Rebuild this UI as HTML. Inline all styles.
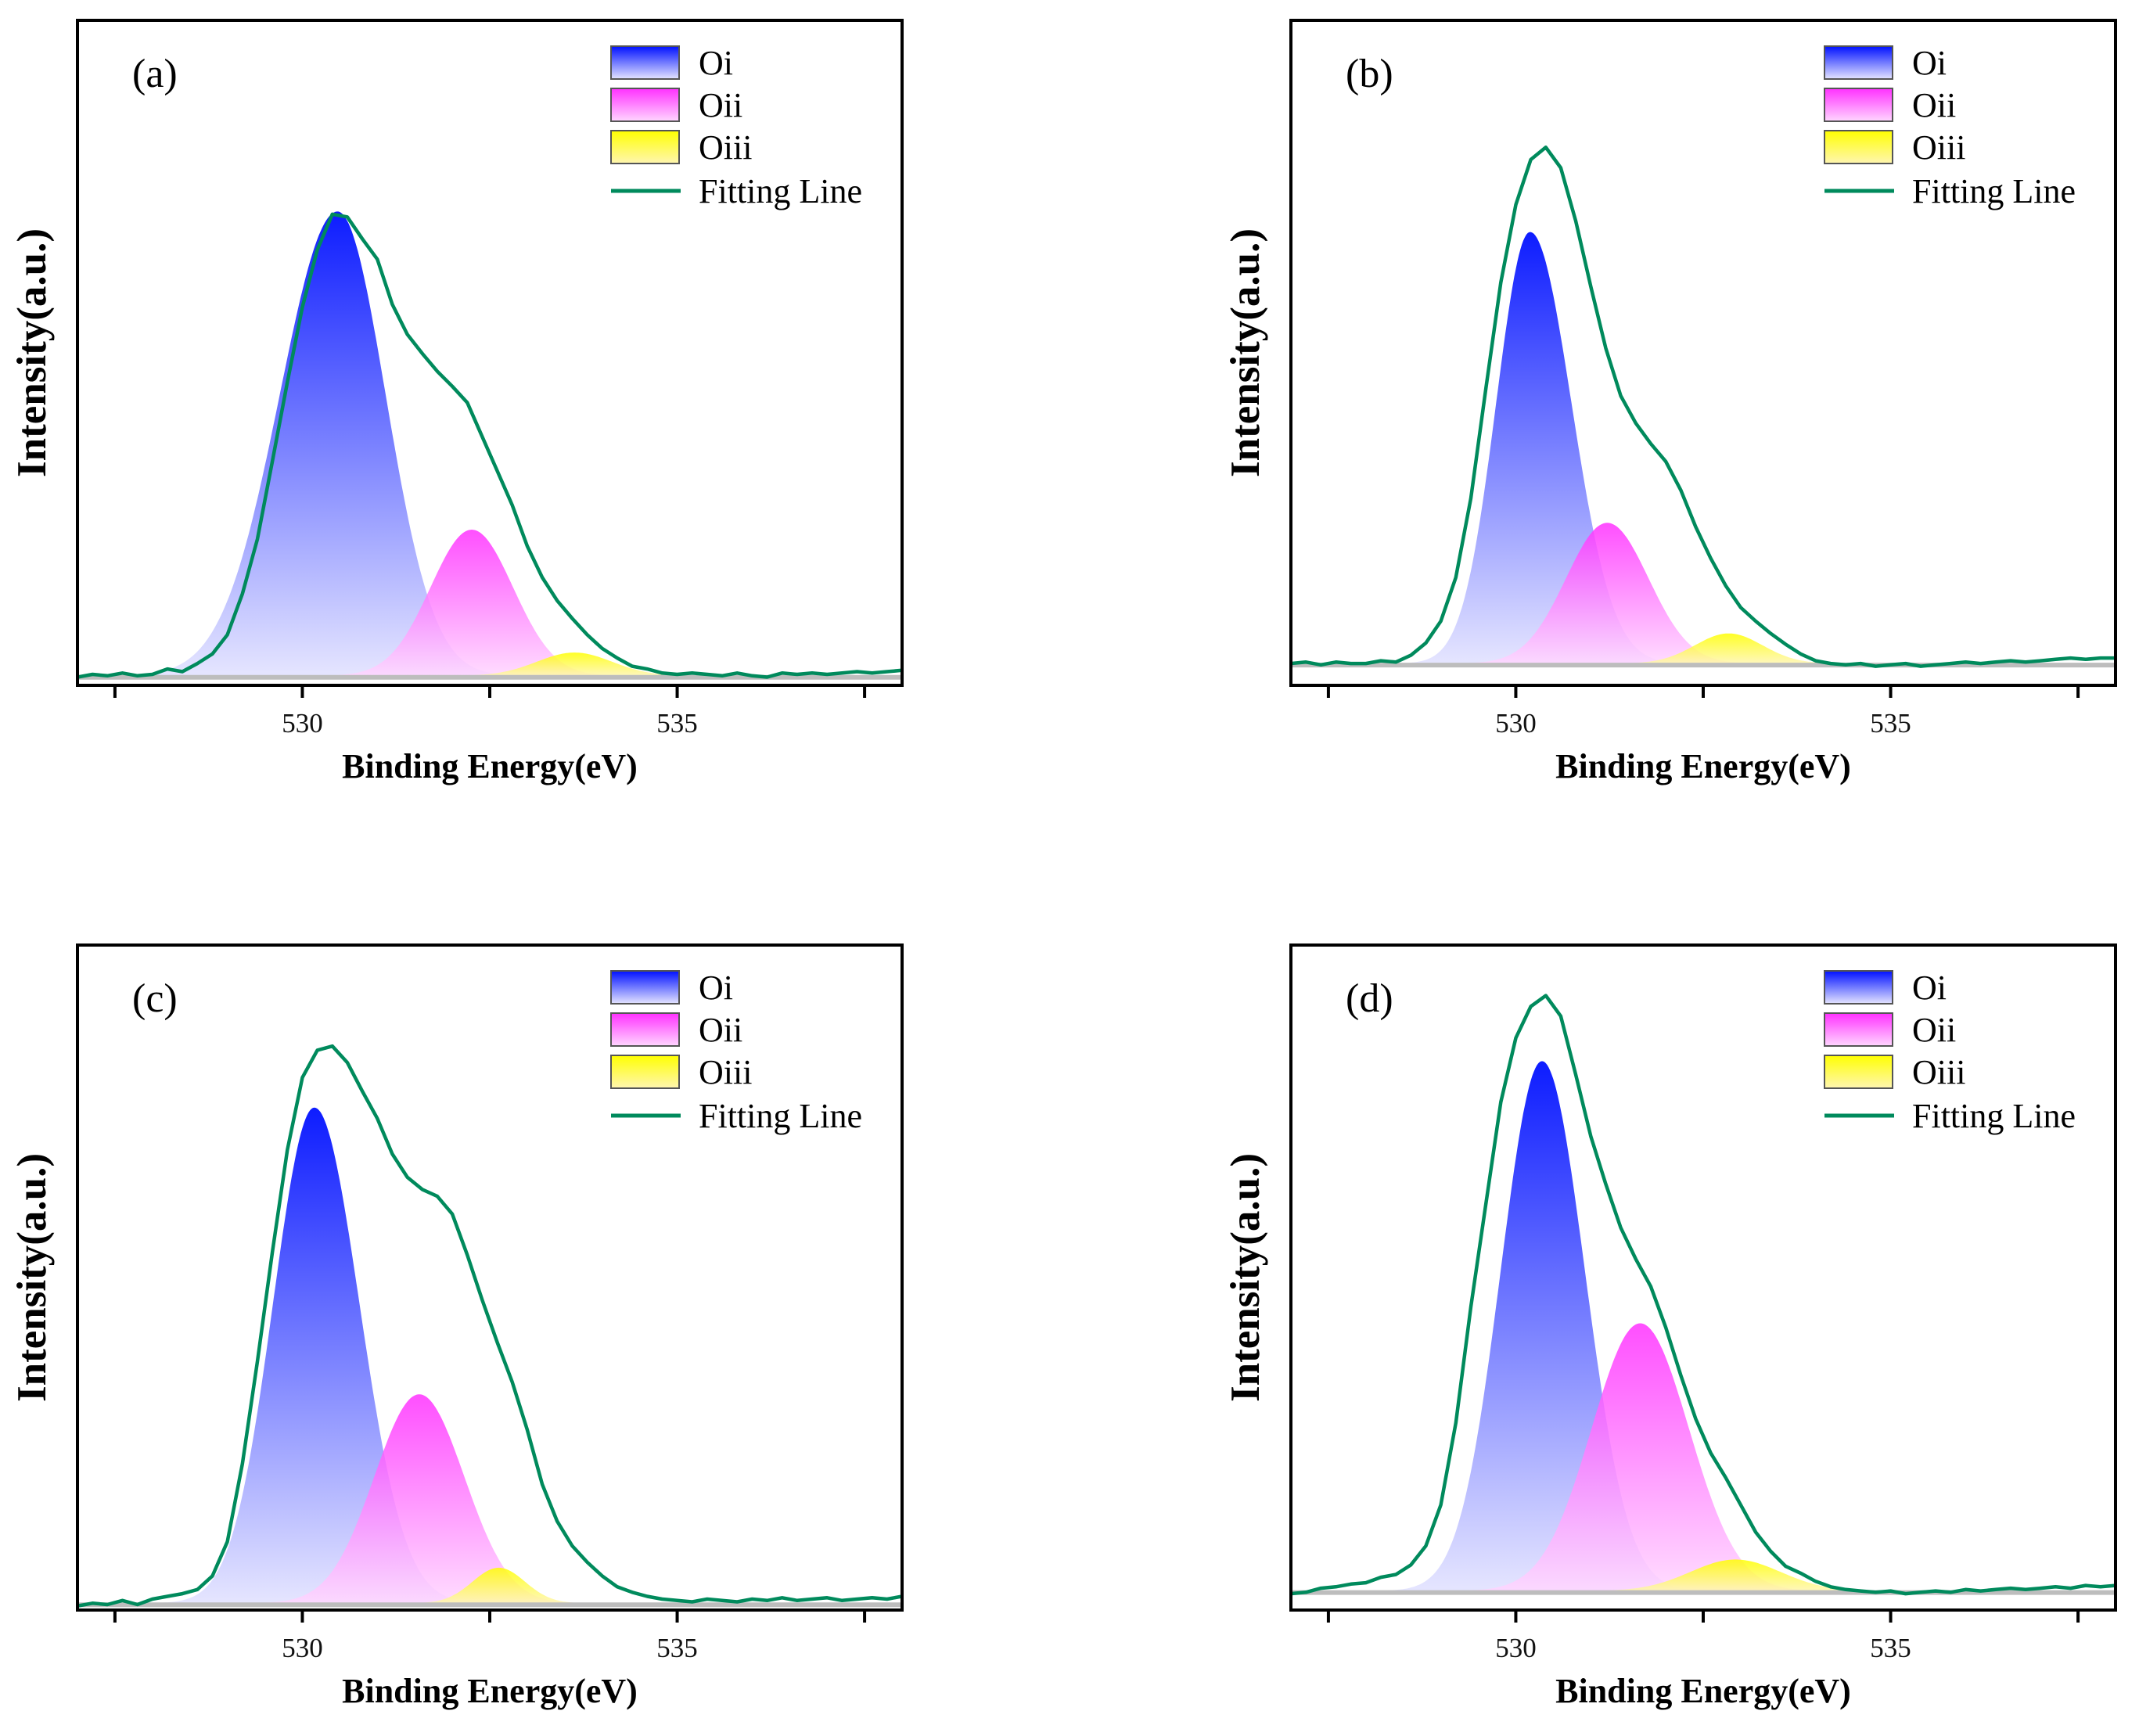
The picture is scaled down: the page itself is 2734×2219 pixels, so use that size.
<!DOCTYPE html>
<html><head><meta charset="utf-8">
<style>
html,body{margin:0;padding:0;background:#fff;}
svg text{font-family:"Liberation Serif","DejaVu Serif",serif;}
</style></head>
<body>
<svg id="fig" xmlns="http://www.w3.org/2000/svg" width="2734" height="2214" viewBox="0 0 2734 2214">
<defs>
<linearGradient id="gOi" x1="0" y1="0" x2="0" y2="1"><stop offset="0" stop-color="#0010ff"/><stop offset="1" stop-color="#e4e4ff"/></linearGradient>
<linearGradient id="gOii" x1="0" y1="0" x2="0" y2="1"><stop offset="0" stop-color="#ff30ff"/><stop offset="1" stop-color="#ffd6ff"/></linearGradient>
<linearGradient id="gOiii" x1="0" y1="0" x2="0" y2="1"><stop offset="0" stop-color="#ffff00"/><stop offset="1" stop-color="#fff6b0"/></linearGradient>
</defs>
</svg>
<script>
// ---- data ----
const energies = [527.0,527.2,527.4,527.6,527.8,528.0,528.2,528.4,528.6,528.8,529.0,529.2,529.4,529.6,529.8,530.0,530.2,530.4,530.6,530.8,531.0,531.2,531.4,531.6,531.8,532.0,532.2,532.4,532.6,532.8,533.0,533.2,533.4,533.6,533.8,534.0,534.2,534.4,534.6,534.8,535.0,535.2,535.4,535.6,535.8,536.0,536.2,536.4,536.6,536.8,537.0,537.2,537.4,537.6,537.8,538.0];
const fitA = [-1,1,0,2,0,1,5,3,9,16,30,60,100,157,215,270,312,338,336,320,305,272,250,236,223,212,200,175,150,125,95,72,55,42,30,20,13,7,5,2,1,2,1,0,2,0,-1,2,1,2,1,2,3,2,3,4];
const fitB = [9,10,8,10,9,9,11,10,15,24,40,72,130,210,288,345,378,387,372,333,285,240,205,185,170,157,136,109,86,66,50,40,31,23,16,11,9,8,9,7,8,9,7,8,9,10,9,10,11,10,11,12,13,12,13,13];
const fitC = [-4,-2,-3,0,-3,1,3,5,8,18,43,100,175,255,330,383,403,406,394,373,353,327,310,301,296,283,253,220,189,160,125,85,58,40,28,18,10,6,3,1,0,-1,1,0,-1,1,0,2,0,1,2,0,1,2,1,3];
const fitD = [5,6,9,10,12,13,17,19,26,40,70,130,215,290,365,412,435,443,428,385,340,305,273,250,230,200,165,133,108,90,70,50,36,25,20,14,10,8,7,6,7,5,6,7,6,8,7,8,9,8,9,10,9,11,10,11];
// peak parameters: [center eV, height, sigmaLeft, sigmaRight]
const peaksA = [[530.47,340,0.77,0.64],[532.26,107,0.55,0.55],[533.63,17,0.5,0.5]];
const peaksB = [[530.19,316,0.45,0.55],[531.22,103,0.55,0.55],[532.84,22,0.45,0.45]];
const peaksC = [[530.16,363,0.55,0.6],[531.56,153,0.6,0.6],[532.62,26,0.35,0.35]];
const peaksD = [[530.35,388,0.55,0.57],[531.66,196,0.65,0.65],[532.93,23,0.6,0.6]];
const baselines = [0,9,-2,7];
const panelLabels = ["(a)","(b)","(c)","(d)"];
const xTicks = [527.5,530,532.5,535,537.5];
const xTickLabels = {530:"530",535:"535"};
const legendNames = ["Oi","Oii","Oiii"];

const NS="http://www.w3.org/2000/svg";
const svg=document.getElementById('fig');
function mk(tag,attrs,parent){const e=document.createElementNS(NS,tag);for(const k in attrs)e.setAttribute(k,attrs[k]);(parent||svg).appendChild(e);return e;}

const panels=[
 {l:99,r:1153,t:26,b:876,fit:fitA,peaks:peaksA},
 {l:1650,r:2704,t:26,b:876,fit:fitB,peaks:peaksB},
 {l:99,r:1153,t:1208,b:2058,fit:fitC,peaks:peaksC},
 {l:1650,r:2704,t:1208,b:2058,fit:fitD,peaks:peaksD}];
const fills=["url(#gOi)","url(#gOii)","url(#gOiii)"];
const names=["oi","oii","oiii"];

panels.forEach((p,i)=>{
 const g=mk('g',{});
 
 
 const xS=e=>p.l+(e-527)/(538-527)*(p.r-p.l);
 const yS=v=>p.b-(v+7)/(480+7)*(p.b-p.t);
 const base=baselines[i];
 const cp=mk('clipPath',{id:'clip'+i},g);
 mk('rect',{x:p.l,y:p.t,width:p.r-p.l,height:p.b-p.t},cp);
 const plot=mk('g',{'clip-path':'url(#clip'+i+')'},g);
 p.peaks.forEach((pk,j)=>{
  let d=`M${xS(527).toFixed(1)},${yS(base).toFixed(1)}`;
  for(let e=527;e<=538.001;e+=0.02){
   const s=e<pk[0]?pk[2]:pk[3];
   const v=base+pk[1]*Math.exp(-0.5*((e-pk[0])/s)**2);
   d+=`L${xS(e).toFixed(1)},${yS(v).toFixed(1)}`;
  }
  d+=`L${xS(538).toFixed(1)},${yS(base).toFixed(1)}Z`;
  const path=mk('path',{d:d,fill:fills[j],'fill-opacity':j==0?0.95:0.85},plot);
  
  
 });
 const bl=mk('line',{x1:p.l,x2:p.r,y1:yS(base)+2,y2:yS(base)+2,stroke:'#bdbdbd','stroke-width':6},plot);
 
 
 const pts=energies.map((e,k)=>`${xS(e).toFixed(1)},${yS(p.fit[k]).toFixed(1)}`).join(' ');
 const fl=mk('polyline',{points:pts,fill:'none',stroke:'#008a5c','stroke-width':4.5,'stroke-linejoin':'round'},plot);
 
 
 const fr=mk('rect',{x:p.l,y:p.t,width:p.r-p.l,height:p.b-p.t,fill:'none',stroke:'#000','stroke-width':4},g);
 
 
 xTicks.forEach(t=>{
  const tk=mk('line',{x1:xS(t),x2:xS(t),y1:p.b,y2:p.b+16,stroke:'#000','stroke-width':4},g);
  
  
  if(xTickLabels[t]){
   const tl=mk('text',{x:xS(t),y:p.b+60,'text-anchor':'middle','font-size':35,fill:'#111'},g);
   tl.textContent=xTickLabels[t];
   
   
  }
 });
 const xl=mk('text',{x:(p.l+p.r)/2,y:p.b+118,'text-anchor':'middle','font-size':44,'font-weight':'bold'},g);
 xl.textContent="Binding Energy(eV)";
 
 
 const cy=(p.t+p.b)/2;
 const yx=p.l-55;
 const yl=mk('text',{x:yx,y:cy+2,'text-anchor':'middle','font-size':53,'font-weight':'bold',transform:`rotate(-90 ${yx} ${cy})`,'dominant-baseline':'middle'},g);
 yl.textContent="Intensity(a.u.)";
 
 
 const pl=mk('text',{x:p.l+70,y:p.t+85,'font-size':52},g);
 pl.textContent=panelLabels[i];
 
 
 const lg=mk('g',{},g);
 
 
 legendNames.forEach((n,j)=>{
  const by=p.t+33+j*54;
  const r=mk('rect',{x:p.l+682,y:by,width:87,height:42,fill:fills[j],stroke:'#555','stroke-width':2},lg);
  
  
  const tx=mk('text',{x:p.l+794,y:by+36,'font-size':44},lg);
  tx.textContent=n;
  
  
 });
 const ly=p.t+218;
 const ll=mk('line',{x1:p.l+682,x2:p.l+771,y1:ly,y2:ly,stroke:'#008a5c','stroke-width':5},lg);
 
 
 const lt=mk('text',{x:p.l+794,y:ly+15,'font-size':44},lg);
 lt.textContent="Fitting Line";
 
 
});
</script>
</body></html>
